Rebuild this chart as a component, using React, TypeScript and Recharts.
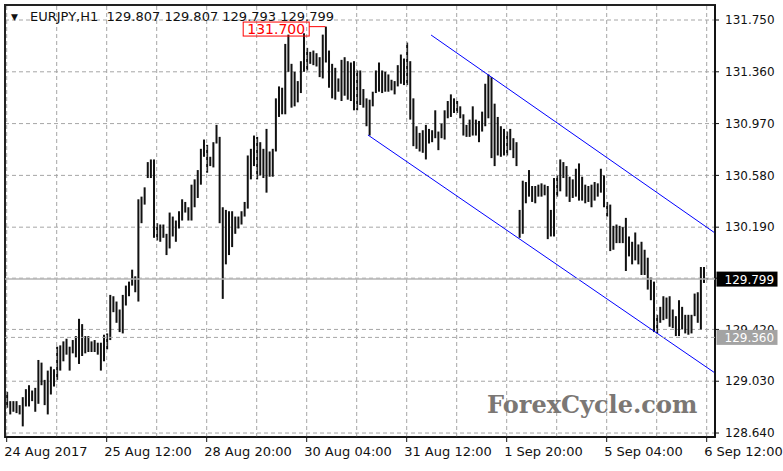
import React from 'react';
import { ComposedChart, Bar, XAxis, YAxis, CartesianGrid, ReferenceLine, ReferenceArea } from 'recharts';

// H1 bar highs / lows, index 0 = 24 Aug 2017 04:00 ... 224 = 6 Sep 12:00
const highs: number[] = [
  128.95, 128.88, 128.88, 128.88, 128.85, 128.91, 128.97, 129.0, 128.96, 128.98,
  129.19, 129.17, 129.04, 129.11, 129.14, 129.12, 129.29, 129.3, 129.33, 129.35,
  129.29, 129.34, 129.37, 129.5, 129.46, 129.37, 129.37, 129.33, 129.34, 129.32,
  129.32, 129.38, 129.39, 129.68, 129.67, 129.63, 129.57, 129.68, 129.75, 129.78,
  129.87, 129.82, 130.4, 130.42, 130.49, 130.68, 130.7, 130.7, 130.22, 130.21,
  130.21, 130.14, 130.3, 130.27, 130.24, 130.31, 130.4, 130.38, 130.34, 130.51,
  130.55, 130.62, 130.78, 130.85, 130.81, 130.72, 130.83, 130.96, 130.87, 130.34,
  130.32, 130.31, 130.31, 130.27, 130.27, 130.31, 130.38, 130.73, 130.78, 130.88,
  130.87, 130.83, 130.78, 130.93, 130.76, 130.78, 131.16, 131.25, 131.24, 131.57,
  131.64, 131.42, 131.36, 131.29, 131.44, 131.65, 131.54, 131.51, 131.52, 131.5,
  131.47, 131.64, 131.7, 131.52, 131.42, 131.39, 131.31, 131.45, 131.47, 131.44,
  131.43, 131.44, 131.37, 131.37, 131.23, 131.16, 131.15, 131.21, 131.37, 131.43,
  131.37, 131.36, 131.34, 131.3, 131.29, 131.41, 131.49, 131.46, 131.58, 131.44,
  131.16, 130.95, 130.9, 130.92, 130.96, 130.93, 130.92, 131.07, 130.91, 130.97,
  131.07, 131.14, 131.19, 131.16, 131.14, 131.1, 131.04, 130.96, 131.0, 131.1,
  131.0, 130.99, 131.06, 131.27, 131.34, 131.32, 131.12, 131.02, 130.95, 130.93,
  130.91, 130.93, 130.86, 130.83, 130.32, 130.54, 130.53, 130.62, 130.5, 130.5,
  130.51, 130.52, 130.51, 130.5, 130.32, 130.56, 130.58, 130.7, 130.68, 130.65,
  130.57, 130.55, 130.63, 130.67, 130.57, 130.51, 130.5, 130.51, 130.53, 130.52,
  130.63, 130.58, 130.38, 130.36, 130.2, 130.21, 130.2, 130.19, 130.26, 130.12,
  130.08, 130.15, 130.06, 130.08, 130.02, 129.96, 129.81, 129.78, 129.53, 129.59,
  129.67, 129.66, 129.67, 129.57, 129.52, 129.64, 129.59, 129.53, 129.53, 129.53,
  129.69, 129.7, 129.89, 129.89, 129.807,
];
const lows: number[] = [
  128.83, 128.78, 128.8, 128.79, 128.78, 128.69, 128.84, 128.84, 128.88, 128.8,
  128.86, 129.0, 128.85, 128.78, 128.93, 128.99, 129.04, 129.11, 129.18, 129.23,
  129.11, 129.24, 129.21, 129.16, 129.22, 129.24, 129.25, 129.25, 129.25, 129.23,
  129.11, 129.18, 129.27, 129.34, 129.55, 129.47, 129.4, 129.39, 129.6, 129.67,
  129.75, 129.7, 129.63, 130.22, 130.36, 130.56, 130.56, 130.11, 130.09, 130.08,
  130.11, 129.98, 130.03, 130.12, 130.08, 130.18, 130.24, 130.3, 130.24, 130.24,
  130.34, 130.41, 130.51, 130.72, 130.6, 130.65, 130.64, 130.82, 130.22, 129.65,
  129.91, 129.98, 130.04, 130.14, 130.18, 130.21, 130.27, 130.33, 130.55, 130.65,
  130.55, 130.58, 130.56, 130.45, 130.57, 130.57, 130.76, 131.02, 131.04, 131.04,
  131.36, 131.09, 131.1, 131.13, 131.2, 131.36, 131.37, 131.42, 131.41, 131.4,
  131.32, 131.31, 131.43, 131.24, 131.16, 131.15, 131.21, 131.14, 131.18, 131.15,
  131.14, 131.07, 131.07, 131.11, 131.09, 130.95, 130.88, 131.1, 131.2, 131.21,
  131.2, 131.21, 131.21, 131.22, 131.19, 131.25, 131.27, 131.26, 131.26, 131.0,
  130.8, 130.78, 130.76, 130.75, 130.7, 130.82, 130.83, 130.86, 130.77, 130.86,
  130.85, 131.01, 131.02, 131.05, 131.05, 131.01, 130.88, 130.87, 130.87, 130.88,
  130.88, 130.83, 130.91, 130.95, 131.01, 130.71, 130.65, 130.73, 130.72, 130.73,
  130.73, 130.77, 130.71, 130.65, 130.11, 130.14, 130.37, 130.42, 130.38, 130.37,
  130.42, 130.42, 130.43, 130.1, 130.12, 130.12, 130.42, 130.46, 130.56, 130.42,
  130.38, 130.41, 130.42, 130.39, 130.39, 130.37, 130.38, 130.34, 130.39, 130.42,
  130.45, 130.34, 130.27, 130.01, 130.02, 130.07, 130.07, 130.07, 129.86, 129.97,
  129.91, 129.94, 129.91, 129.83, 129.83, 129.72, 129.64, 129.4, 129.39, 129.47,
  129.49, 129.5, 129.44, 129.43, 129.37, 129.37, 129.42, 129.39, 129.38, 129.39,
  129.52, 129.47, 129.42, 129.77, 129.793,
];

const xTickIdx = [0, 32, 64, 96, 128, 160, 192, 224];
const xTickLabels = ['24 Aug 2017', '25 Aug 12:00', '28 Aug 20:00', '30 Aug 04:00', '31 Aug 12:00', '1 Sep 20:00', '5 Sep 04:00', '6 Sep 12:00'];
const xGridIdx = [0, 16, 32, 48, 64, 80, 96, 112, 128, 144, 160, 176, 192, 208, 224];
const yTickValues = [131.75, 131.36, 130.97, 130.58, 130.19, 129.806, 129.42, 129.03, 128.64];
const yTickLabels = ['131.750', '131.360', '130.970', '130.580', '130.190', '', '129.420', '129.030', '128.640'];

const lastPrice = 129.799;
const lastPriceLabel = '129.799';
const levelPrice = 129.36;
const levelLabel = '129.360';
const peakIdx = 102;
const peakPrice = 131.7;
const peakLabel = '131.700';
const upperChannel = [{ x: 135.8, y: 131.637 }, { x: 226.66, y: 130.146 }];
const lowerChannel = [{ x: 115.6, y: 130.884 }, { x: 226.66, y: 129.092 }];
const headerText = 'EURJPY,H1  129.807 129.807 129.793 129.799';
const watermark = 'ForexCycle.com';

const X_DOMAIN: [number, number] = [-0.544, 226.66];
const Y_DOMAIN: [number, number] = [128.61, 131.863];

const data = highs.map((h, i) => ({ i, high: h, low: lows[i] }));

const FONT = '"DejaVu Sans", Verdana, sans-serif';

const BarShape = (props: any) => {
  const { x, y, width, height } = props;
  if (x == null || y == null) return null;
  const cx = x + width / 2;
  const top = height < 0 ? y + height : y;
  const h = Math.max(Math.abs(height), 1);
  return <rect x={cx - 1} y={top} width={2} height={h} fill="#111" />;
};

const XTick = (props: any) => {
  const { x, y, payload } = props;
  const k = xTickIdx.indexOf(payload.value);
  return (
    <text x={x - 2.5} y={y + 12} textAnchor="start" fontSize={13} fontFamily={FONT} fill="#111">
      {k >= 0 ? xTickLabels[k] : ''}
    </text>
  );
};

const priceTag = (text: string, fill: string) => (props: any) => {
  const vb = props.viewBox || {};
  const x = vb.x + vb.width + 1.5;
  const y = vb.y;
  return (
    <g>
      <rect x={x} y={y - 7.5} width={61} height={15} fill={fill} />
      <text x={x + 8} y={y + 4.5} fontSize={12} fontFamily={FONT} fill="#fff">{text}</text>
    </g>
  );
};

const peakTag = (props: any) => {
  const vb = props.viewBox || {};
  const x = vb.x;
  const y = vb.y;
  return (
    <g>
      <rect x={x - 66} y={y - 4.6} width={66} height={14} fill="none" stroke="#ff0000" strokeWidth={1} />
      <text x={x - 33} y={y + 7.6} textAnchor="middle" fontSize={14} fontFamily={FONT} fill="#ff0000">{peakLabel}</text>
    </g>
  );
};

export default function App() {
  return (
    <div style={{ position: 'absolute', left: 0, top: 0, width: 783, height: 471, background: '#fff' }}>
      <ComposedChart
        width={783}
        height={471}
        data={data}
        margin={{ top: 5, right: 8, bottom: 4, left: 5 }}
      >
        <CartesianGrid vertical={false} stroke="#a6a6a6" strokeDasharray="4 3" />
        <XAxis
          dataKey="i"
          type="number"
          domain={X_DOMAIN}
          allowDataOverflow
          ticks={xTickIdx}
          interval={0}
          height={30}
          tickSize={5}
          tick={<XTick />}
          axisLine={{ stroke: '#111', strokeWidth: 1.5 }}
          tickLine={{ stroke: '#111' }}
        />
        <YAxis
          orientation="right"
          type="number"
          domain={Y_DOMAIN}
          allowDataOverflow
          ticks={yTickValues}
          interval={0}
          width={60}
          tickSize={4}
          tickMargin={6}
          tickFormatter={(v: number) => yTickLabels[yTickValues.indexOf(v)] ?? ''}
          tick={{ fontSize: 12, fontFamily: FONT, fill: '#111' }}
          axisLine={{ stroke: '#111', strokeWidth: 1.5 }}
          tickLine={{ stroke: '#111' }}
        />
        {xGridIdx.map((v) => (
          <ReferenceLine key={'g' + v} x={v} stroke="#a6a6a6" strokeDasharray="4 3" />
        ))}
        <ReferenceLine
          y={levelPrice}
          stroke="#a6a6a6"
          strokeDasharray="4 3"
          label={priceTag(levelLabel, '#a3a3a3')}
          {...({ zIndex: 3000 } as any)}
        />
        <ReferenceLine
          y={lastPrice}
          stroke="#b4b4b4"
          strokeWidth={1.5}
          label={priceTag(lastPriceLabel, '#000')}
          {...({ zIndex: 3000 } as any)}
        />
        <Bar dataKey={(d: any) => [d.low, d.high]} barSize={2} shape={<BarShape />} isAnimationActive={false} />
        <ReferenceLine segment={upperChannel} stroke="#0000ff" strokeWidth={1} />
        <ReferenceLine segment={lowerChannel} stroke="#0000ff" strokeWidth={1} />
        <ReferenceLine
          segment={[{ x: peakIdx - 5.2, y: peakPrice }, { x: peakIdx, y: peakPrice }]}
          stroke="#ff0000"
          strokeWidth={1}
          ifOverflow="visible"
          label={peakTag}
        />
        <ReferenceArea
          x1={X_DOMAIN[0]}
          x2={X_DOMAIN[1]}
          y1={Y_DOMAIN[0]}
          y2={Y_DOMAIN[1]}
          fill="none"
          fillOpacity={0}
          stroke="#222"
          strokeWidth={2}
          ifOverflow="visible"
        />
      </ComposedChart>
      <svg width={783} height={471} style={{ position: 'absolute', left: 0, top: 0, pointerEvents: 'none' }}>
        <text x={11} y={20} fontSize={9} fontFamily={FONT} fill="#111">▼</text>
        <text x={30} y={21} fontSize={13} fontFamily={FONT} fill="#111" style={{ whiteSpace: 'pre' }}>{headerText}</text>
        <text x={487} y={413} fontSize={24} fontWeight="bold" fontFamily='"DejaVu Serif", serif' fill="#7b7774">{watermark}</text>
      </svg>
    </div>
  );
}
